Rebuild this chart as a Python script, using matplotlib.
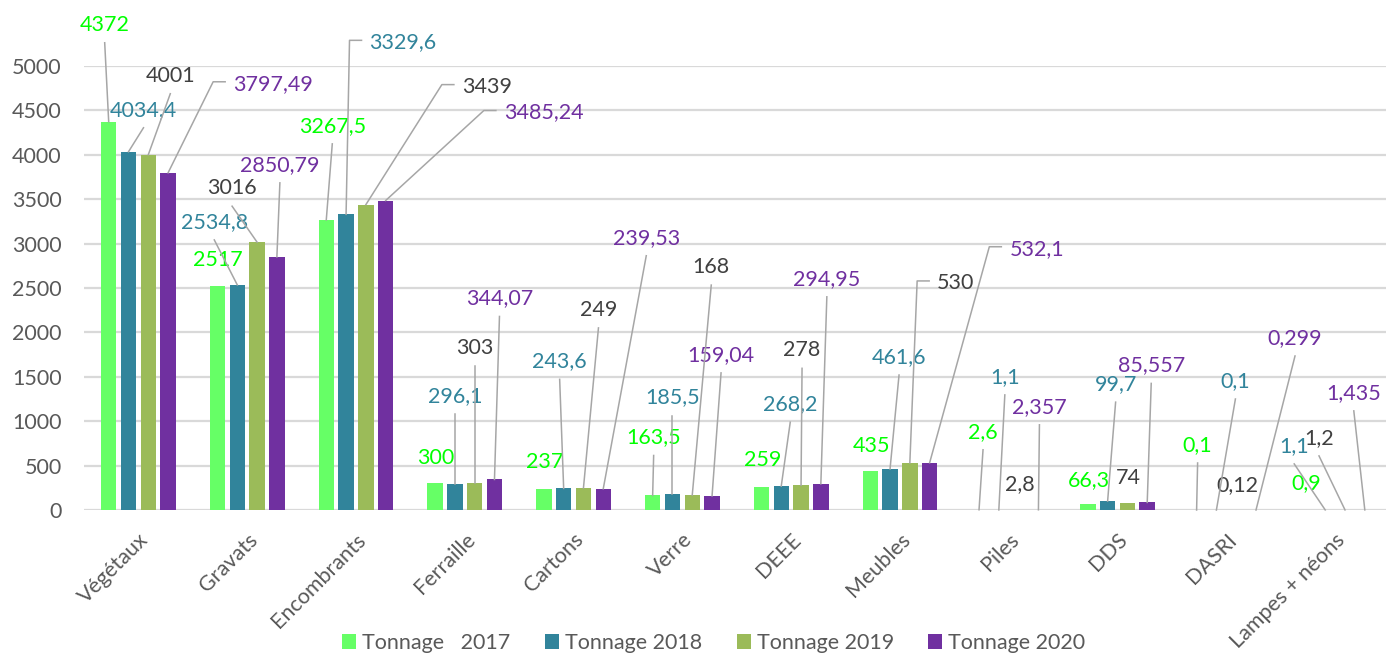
import matplotlib
matplotlib.use('Agg')
import matplotlib.pyplot as plt
import matplotlib.transforms as mtransforms
from matplotlib.lines import Line2D
import numpy as np

plt.rcParams['font.family'] = ['Lato', 'DejaVu Sans']

categories = ['Végétaux', 'Gravats', 'Encombrants', 'Ferraille', 'Cartons', 'Verre',
              'DEEE', 'Meubles', 'Piles', 'DDS', 'DASRI', 'Lampes + néons']
series_names = ['Tonnage   2017', 'Tonnage 2018', 'Tonnage 2019', 'Tonnage 2020']
t2017 = [4372, 2517, 3267.5, 300, 237, 163.5, 259, 435, 2.6, 66.3, 0.1, 0.9]
t2018 = [4034.4, 2534.8, 3329.6, 296.1, 243.6, 185.5, 268.2, 461.6, 1.1, 99.7, 0.1, 1.1]
t2019 = [4001, 3016, 3439, 303, 249, 168, 278, 530, 2.8, 74, 0.12, 1.2]
t2020 = [3797.49, 2850.79, 3485.24, 344.07, 239.53, 159.04, 294.95, 532.1, 2.357, 85.557, 0.299, 1.435]

bar_colors = ['#66FF66', '#31849B', '#9BBB59', '#7030A0']
label_colors = ['#00FF00', '#31849B', '#404040', '#7030A0']

# where each data label sits, in pixels from the top of its bar
# (dx, dy, leader: n = none, l = straight line, h = line with a small hook)
off2017 = [(-4, 97, 'l'), (0, 26, 'n'), (6, 94, 'l'), (1, 25, 'n'), (1, 27, 'n'), (1, 58, 'l'),
           (1, 27, 'n'), (1, 25, 'n'), (4, 78, 'l'), (1, 24, 'n'), (1, 65, 'l'), (1, 27, 'n')]
off2018 = [(15, 42, 'l'), (-23, 63, 'l'), (57, 172, 'h'), (0, 88, 'l'), (-4, 127, 'l'), (0, 96, 'l'),
           (9, 82, 'l'), (9, 112, 'l'), (6, 133, 'l'), (8, 117, 'l'), (19, 129, 'l'), (-31, 64, 'l')]
off2019 = [(22, 79, 'l'), (-25, 54, 'l'), (121, 118, 'h'), (0, 135, 'l'), (15, 178, 'l'), (19, 228, 'l'),
           (1, 135, 'l'), (46, 180, 'h'), (1, 26, 'n'), (1, 25, 'n'), (1, 25, 'n'), (-26, 72, 'l')]
off2020 = [(105, 89, 'h'), (3, 92, 'l'), (158, 88, 'h'), (5, 181, 'l'), (43, 251, 'l'), (9, 141, 'l'),
           (6, 205, 'l'), (107, 214, 'h'), (1, 103, 'l'), (4, 137, 'l'), (39, 172, 'l'), (-11, 117, 'l')]

all_series = [t2017, t2018, t2019, t2020]
all_offsets = [off2017, off2018, off2019, off2020]

FS = 15.5


def fmt(v):
    return f"{v:g}".replace('.', ',')


fig = plt.figure(figsize=(13.86, 6.54), dpi=100)
ax = fig.add_axes([84 / 1386, 144 / 654, 1305.5 / 1386, 444 / 654])

x = np.arange(len(categories))
width = 0.142
step = 0.182
for i, vals in enumerate(all_series):
    ax.bar(x + (i - 1.5) * step, vals, width, color=bar_colors[i], label=series_names[i], zorder=2)

ax.set_xlim(-0.5, len(categories) - 0.5)
ax.set_ylim(0, 5000)
ax.set_yticks(np.arange(0, 5001, 500))
ax.grid(axis='y', color='#D9D9D9', lw=1.6, zorder=0)
ax.set_axisbelow(True)
for s in ax.spines.values():
    s.set_visible(False)
ax.tick_params(axis='both', length=0, labelsize=FS, labelcolor='#595959')
ax.tick_params(axis='y', pad=16)
ax.tick_params(axis='x', pad=14)
ax.set_xticks(x)
ax.set_xticklabels(categories, rotation=45, ha='right', rotation_mode='anchor')

# data labels
texts = []
for i, vals in enumerate(all_series):
    for j, v in enumerate(vals):
        dx, dy, kind = all_offsets[i][j]
        bx = j + (i - 1.5) * step
        t = ax.annotate(fmt(v), xy=(bx, v), xytext=(dx, dy), textcoords='offset pixels',
                        ha='center', va='center', fontsize=FS, color=label_colors[i],
                        annotation_clip=False, zorder=4)
        texts.append((t, bx, v, dx, dy, kind))

fig.legend(loc='center', bbox_to_anchor=(714 / 1386, 11 / 654), ncol=4, frameon=False,
           fontsize=FS, handlelength=0.65, handleheight=0.65, handletextpad=0.28,
           columnspacing=1.6, labelcolor='#595959')

# leader lines, drawn in pixels once the text sizes are known
fig.canvas.draw()
r = fig.canvas.get_renderer()
for t, bx, v, dx, dy, kind in texts:
    if kind == 'n':
        continue
    x0, y0 = ax.transData.transform((bx, v))
    if kind == 'l':
        xs = [x0 + dx, x0]
        ys = [y0 + dy - 18, y0]
    else:
        bb = t.get_window_extent(r)
        yh = y0 + dy + 2
        xs = [bb.x0 - 8, bb.x0 - 20, x0]
        ys = [yh, yh, y0]
    fig.add_artist(Line2D(xs, ys, color='#A6A6A6', lw=1.1,
                          transform=mtransforms.IdentityTransform(), zorder=3))

fig.savefig('out.png', dpi=100)
